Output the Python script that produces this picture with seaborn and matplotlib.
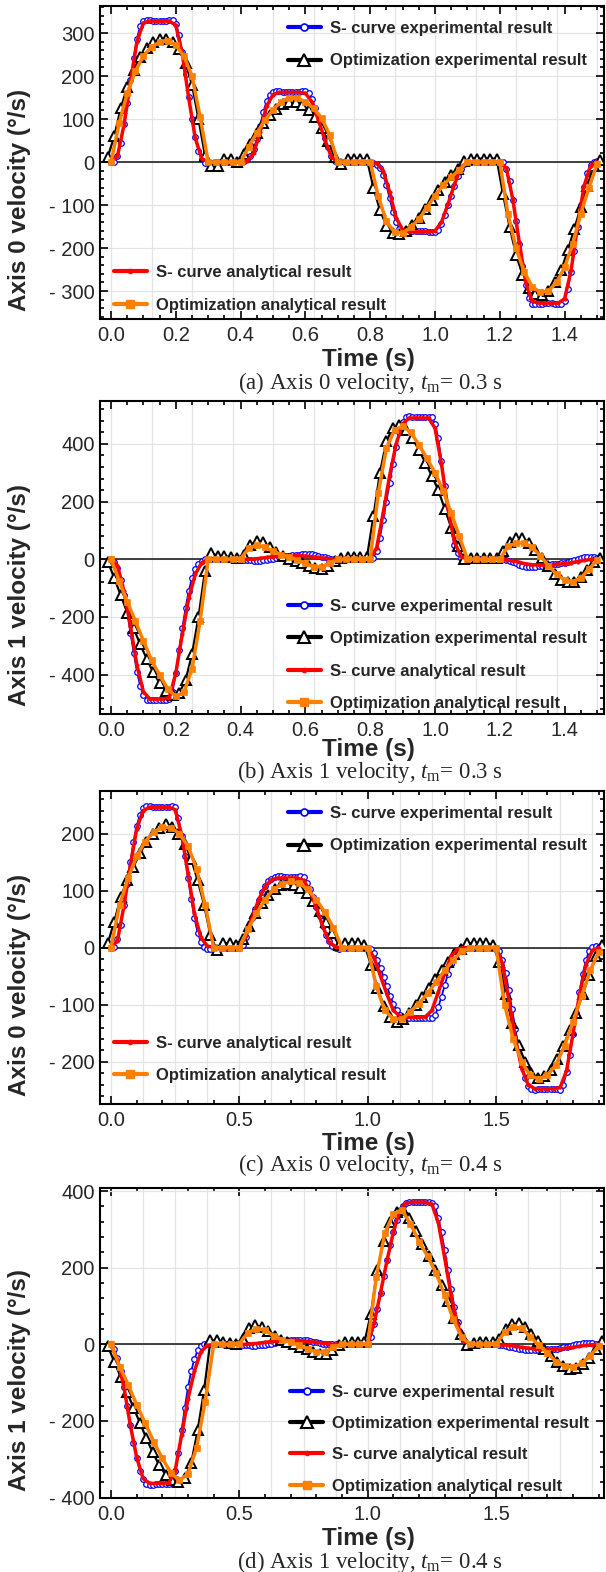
import numpy as np
import matplotlib
matplotlib.use("Agg")
import matplotlib.pyplot as plt
import seaborn as sns
from matplotlib.lines import Line2D
from matplotlib.ticker import MultipleLocator, FuncFormatter

sns.set_style("ticks")
plt.rcParams['font.family'] = ['Liberation Sans', 'DejaVu Sans']
plt.rcParams['axes.unicode_minus'] = False
plt.rcParams['mathtext.fontset'] = 'custom'
plt.rcParams['mathtext.rm'] = 'Liberation Serif'
plt.rcParams['mathtext.it'] = 'Liberation Serif:italic'

# ---------------- time grids (sampling instants) ----------------
t_ab_scurve_exp = np.arange(151) * 0.01
t_ab_scurve_ana = np.arange(76) * 0.02
t_ab_opt_ana = np.arange(61) * 0.025
t_ab_opt_exp = -0.01 + np.arange(77) * 0.02

t_cd_scurve_exp = np.arange(153) * 0.0125
t_cd_scurve_ana = np.arange(77) * 0.025
t_cd_opt_ana = np.arange(58) / 30.0
t_cd_opt_exp = -0.0125 + np.arange(78) * 0.025

# ---------------- panel (a): axis 0, tm = 0.3 s ----------------
a_scurve_exp = [
    0, 1, 15, 45, 88, 138, 190, 242, 287, 316, 329, 331, 330, 329, 328, 328, 328, 329, 330, 331,
    322, 296, 255, 206, 152, 101, 58, 26, 7, -2, -3,
    -2, -1, 0, 0, 0, 0, 0, 0, 0,
    0, 2, 6, 14, 30, 54, 84, 116, 141, 157, 164, 166, 165, 164, 163, 163, 163, 163, 164, 165,
    166, 160, 146, 126, 104, 81, 57, 34, 15, 3, -2,
    -2, -1, 0, 0, 0, 0, 0, 0, 0,
    0, -2, -6, -14, -30, -54, -84, -115, -140, -155, -161, -163, -162, -161, -161, -161, -161, -161, -162, -163,
    -163, -157, -143, -123, -101, -78, -55, -33, -15, -4, 1,
    1, 0, 0, 0, 0, 0, 0, 0, 0,
    0, -1, -15, -45, -88, -138, -190, -242, -287, -316, -329, -331, -330, -329, -328, -328, -328, -329, -330, -331,
    -322, -296, -255, -206, -152, -101, -58, -26, -7, 0, 2]
a_scurve_ana = [
    0, 14, 86, 186, 280, 324, 328, 328, 328, 328, 318, 252, 148, 56, 8, 0,
    0, 0, 0, 0,
    0, 3, 20, 70, 130, 157, 162, 162, 162, 162, 160, 140, 98, 52, 12, 0,
    0, 0, 0, 0,
    0, -3, -20, -70, -130, -157, -162, -162, -162, -162, -160, -140, -98, -52, -12, 0,
    0, 0, 0, 0,
    0, -14, -86, -186, -280, -324, -328, -328, -328, -328, -318, -252, -148, -56, -8, 0]
a_opt_ana = [
    0, 90, 160, 211, 247, 268, 279, 282, 272, 247, 200, 105, 0,
    0, 0, 0,
    0, 35, 68, 97, 122, 140, 150, 149, 140, 125, 103, 62, 0,
    0, 0, 0,
    0, -80, -138, -163, -165, -152, -133, -106, -78, -54, -35, -18, 0,
    0, 0, 0,
    0, -120, -200, -255, -290, -303, -300, -280, -245, -190, -120, -60, -5]
a_opt_exp = [
    12, 60, 125, 175, 215, 245, 266, 279, 286, 287, 280, 262, 230, 180, 100, 15,
    -8, -8, 8, 8, 0,
    18, 42, 67, 91, 110, 124, 134, 139, 139, 132, 122, 104, 80, 48, 12,
    -5, 8, 8, 8, 6,
    -60, -112, -148, -165, -168, -160, -146, -130, -110, -88, -66, -46, -30, -15, 2,
    8, 8, 8, 8, 8,
    -75, -150, -215, -262, -292, -306, -310, -300, -280, -250, -205, -155, -105, -55, -10, 5]

# ---------------- panel (b): axis 1, tm = 0.3 s ----------------
b_scurve_exp = [
    0, -8, -30, -72, -125, -185, -255, -325, -390, -440, -472, -487, -490, -488, -487, -487, -487, -487, -486, -460,
    -395, -315, -240, -170, -110, -65, -35, -15, -5, 0, 2,
    2, 1, 0, 0, 0, 0, 0, 0, 0,
    0, -1, -2, -3, -5, -6, -5, -4, -2, 0, 2, 4, 6, 8, 10, 12, 13, 15, 16, 17,
    18, 18, 17, 15, 12, 9, 6, 3, 1, 0, 0,
    0, 0, 0, 0, 0, 0, 0, 0, 0,
    0, 5, 30, 75, 135, 200, 265, 330, 390, 440, 475, 492, 497, 495, 494, 494, 494, 494, 494, 493,
    470, 420, 340, 255, 170, 100, 50, 20, 5, 0, -2,
    -1, 0, 0, 0, 0, 0, 0, 0, 0,
    0, 0, -2, -5, -9, -14, -19, -23, -26, -28, -28, -27, -25, -23, -21, -19, -18, -17, -16, -14,
    -12, -9, -6, -3, 0, 3, 6, 8, 9, 8, 5]
b_scurve_ana = [
    0, -22, -110, -232, -368, -460, -485, -485, -485, -480, -395, -260, -135, -52, -12, 0,
    0, 0, 0, 0,
    0, 0, 1, 3, 6, 9, 11, 12, 12, 12, 11, 9, 6, 3, 1, 0,
    0, 0, 0, 0,
    0, 40, 160, 290, 400, 470, 490, 490, 490, 490, 455, 330, 175, 60, 10, 0,
    0, 0, 0, 0,
    0, -2, -6, -11, -16, -19, -20, -20, -19, -17, -15, -12, -8, -4, -1, 0]
b_opt_ana = [
    0, -75, -147, -214, -283, -350, -402, -450, -475, -462, -380, -215, 0,
    0, 0, 0,
    2, 38, 50, 42, 28, 16, 8, -2, -14, -26, -27, -12, 0,
    0, 0, 0,
    0, 230, 385, 448, 462, 440, 398, 350, 300, 238, 160, 80, 0,
    0, 0, 0,
    0, 45, 56, 56, 42, 12, -22, -52, -72, -78, -65, -35, -3]
b_opt_exp = [
    -8, -65, -125, -185, -240, -295, -345, -392, -430, -458, -470, -465, -420, -330, -200, -40,
    20, 12, 10, 8, 5,
    15, 50, 62, 60, 42, 25, 12, 2, -5, -12, -22, -30, -33, -22, -5,
    5, 8, 8, 8, 8,
    150, 300, 410, 455, 465, 450, 420, 380, 335, 290, 240, 175, 110, 45, 0,
    5, 5, 5, 5, 5,
    30, 60, 72, 72, 58, 32, 5, -25, -52, -72, -80, -78, -62, -38, -10, 5]

# ---------------- panel (c): axis 0, tm = 0.4 s ----------------
c_scurve_exp = [
    0, 2, 15, 40, 75, 112, 150, 185, 213, 233, 244, 248, 248, 247, 246, 246, 246, 246, 247, 248,
    246, 228, 195, 160, 122, 85, 52, 26, 10, 2, -2, -3, -2,
    -2, -1, 0, 0, 0, 0, 0,
    0, 5, 18, 34, 52, 68, 84, 97, 108, 116, 121, 124, 125, 125, 124, 124, 124, 124, 124, 125,
    124, 114, 102, 88, 72, 55, 38, 23, 11, 3, -1, -2, -1,
    -1, 0, 0, 0, 0, 0, 0,
    0, -3, -10, -22, -36, -52, -68, -84, -98, -110, -118, -123, -124, -124, -123, -123, -123, -123, -123, -124,
    -124, -118, -104, -86, -66, -46, -28, -14, -5, 0, 1, 0, 0,
    0, 0, 0, 0, 0, 0, 0,
    0, -6, -22, -45, -75, -108, -142, -175, -205, -228, -242, -248, -249, -248, -247, -247, -247, -247, -247, -248,
    -249, -240, -218, -188, -152, -115, -78, -46, -22, -6, 2, 3, 1]
c_scurve_ana = [
    0, 12, 72, 143, 208, 240, 246, 246, 246, 246, 242, 198, 130, 60, 18, 3, 0,
    0, 0, 0,
    0, 20, 52, 84, 107, 119, 122, 122, 122, 122, 118, 100, 70, 37, 10, 1, 0,
    0, 0, 0,
    0, -18, -50, -82, -110, -120, -122, -122, -122, -121, -110, -78, -45, -15, -3, 0, 0,
    0, 0, 0,
    0, -28, -92, -158, -212, -240, -247, -247, -247, -247, -245, -215, -150, -82, -30, -5, 0]
c_opt_ana = [
    0, 75, 122, 160, 186, 203, 211, 210, 200, 178, 138, 75, 0,
    0, 0,
    0, 32, 60, 84, 102, 112, 116, 113, 102, 84, 62, 35, 0,
    0, 0,
    0, -68, -110, -125, -125, -112, -98, -80, -60, -40, -22, -6, 0,
    0, 0,
    0, -100, -160, -200, -224, -230, -224, -205, -172, -130, -85, -40, -8]
c_opt_exp = [
    8, 45, 88, 118, 142, 165, 185, 200, 210, 217, 212, 200, 182, 155, 118, 75, 22,
    -5, 8, 8, 5,
    15, 38, 60, 78, 92, 103, 109, 111, 110, 104, 95, 82, 65, 45, 25, 5,
    8, 8, 8, 5,
    -30, -70, -102, -122, -130, -125, -114, -100, -86, -70, -55, -40, -25, -12, -2, 8,
    8, 8, 8, 5,
    -25, -82, -132, -170, -200, -220, -228, -225, -214, -196, -172, -144, -114, -82, -48, -14, 5]

# ---------------- panel (d): axis 1, tm = 0.4 s ----------------
d_scurve_exp = [
    0, -12, -36, -70, -112, -160, -210, -258, -298, -330, -352, -364, -368, -366, -365, -365, -365, -365, -364, -358,
    -330, -285, -225, -165, -112, -70, -38, -16, -4, 0, 2, 1, 0,
    0, 0, 0, 0, 0, 0, 0,
    0, -1, -2, -3, -4, -4, -3, -2, -1, 0, 2, 4, 6, 8, 9, 10, 11, 12, 12, 12,
    11, 10, 9, 7, 5, 4, 2, 1, 0, 0, 0, 0, 0,
    0, 0, 0, 0, 0, 0, 0,
    0, 20, 52, 92, 135, 178, 220, 258, 293, 325, 350, 362, 369, 372, 372, 371, 371, 371, 371, 371,
    368, 360, 330, 292, 245, 195, 145, 98, 58, 26, 8, 0, -2,
    -1, 0, 0, 0, 0, 0, 0,
    0, -1, -2, -4, -6, -8, -10, -12, -13, -14, -15, -15, -15, -15, -14, -14, -13, -13, -12, -11,
    -10, -8, -6, -4, -2, 0, 2, 3, 4, 4, 3, 2, 1]
d_scurve_ana = [
    0, -40, -110, -210, -295, -350, -363, -363, -363, -362, -330, -237, -142, -70, -20, -3, 0,
    0, 0, 0,
    0, 0, 1, 3, 5, 7, 9, 10, 10, 10, 9, 7, 5, 3, 1, 0, 0,
    0, 0, 0,
    0, 55, 135, 218, 293, 350, 369, 371, 371, 371, 366, 318, 225, 128, 50, 8, 0,
    0, 0, 0,
    0, -1, -3, -5, -8, -10, -12, -13, -13, -13, -12, -10, -8, -5, -3, -1, 0]
d_opt_ana = [
    0, -58, -105, -158, -206, -255, -298, -335, -355, -338, -270, -150, 0,
    0, 0,
    2, 30, 41, 37, 22, 12, 6, -3, -12, -20, -20, -8, 0,
    0, 0,
    0, 175, 290, 340, 350, 315, 268, 230, 185, 128, 65, 18, 0,
    0, 0,
    0, 32, 45, 42, 20, -3, -22, -45, -57, -59, -50, -30, -5]
d_opt_exp = [
    -5, -45, -85, -125, -165, -205, -245, -282, -315, -340, -355, -360, -350, -310, -225, -120, 10,
    10, 5, 3, 0,
    15, 42, 50, 45, 35, 22, 12, 5, 0, -6, -12, -20, -25, -25, -15, -3,
    5, 6, 6, 6,
    80, 195, 270, 320, 345, 350, 330, 295, 262, 230, 195, 155, 112, 68, 28, -2,
    3, 5, 5, 5,
    15, 40, 52, 55, 45, 28, 8, -12, -30, -45, -57, -64, -62, -52, -35, -12, 8]

series_labels = ["S- curve experimental result", "Optimization experimental result",
                 "S- curve analytical result", "Optimization analytical result"]
captions = [r"(a) Axis 0 velocity, $t_{\mathrm{m}}$= 0.3 s",
            r"(b) Axis 1 velocity, $t_{\mathrm{m}}$= 0.3 s",
            r"(c) Axis 0 velocity, $t_{\mathrm{m}}$= 0.4 s",
            r"(d) Axis 1 velocity, $t_{\mathrm{m}}$= 0.4 s"]
ylabels = ["Axis 0 velocity (°/s)", "Axis 1 velocity (°/s)",
           "Axis 0 velocity (°/s)", "Axis 1 velocity (°/s)"]

BLUE, BLACK, RED, ORANGE = "#0000ff", "#000000", "#ff0000", "#ff8000"

W, H = 606, 1572
fig = plt.figure(figsize=(W / 100, H / 100), dpi=100)

# pixel geometry of each panel: (top, bottom)
panel_px = [(6, 319), (401, 714), (791, 1104), (1188, 1498.3)]
left_px, right_px = 99.7, 604

panels = [
    dict(t=(t_ab_scurve_exp, t_ab_opt_exp, t_ab_scurve_ana, t_ab_opt_ana),
         v=(a_scurve_exp, a_opt_exp, a_scurve_ana, a_opt_ana),
         xlim=(-0.0349, 1.5216), ylim=(-365, 363), xmaj=0.2, xmin=0.05, ymaj=100, ymin=20,
         xlab_gap=29, cap_y=383,
         legends=[((0, 2), 0.3727, 16 - 6 + 5, 1.05), ((2, 4), 0.0283, 260.3 - 6 + 5, 1.05)]),
    dict(t=(t_ab_scurve_exp, t_ab_opt_exp, t_ab_scurve_ana, t_ab_opt_ana),
         v=(b_scurve_exp, b_opt_exp, b_scurve_ana, b_opt_ana),
         xlim=(-0.0349, 1.5216), ylim=(-537, 549), xmaj=0.2, xmin=0.05, ymaj=200, ymin=40,
         xlab_gap=24, cap_y=771.7,
         legends=[((0, 4), 0.3727, 593.6 - 401 + 5, 1.05)]),
    dict(t=(t_cd_scurve_exp, t_cd_opt_exp, t_cd_scurve_ana, t_cd_opt_ana),
         v=(c_scurve_exp, c_opt_exp, c_scurve_ana, c_opt_ana),
         xlim=(-0.044, 1.9205), ylim=(-274, 274.5), xmaj=0.5, xmin=0.1, ymaj=100, ymin=20,
         xlab_gap=27.7, cap_y=1165,
         legends=[((0, 2), 0.3727, 10 + 5, 1.05), ((2, 4), 0.0283, 1030.3 - 791 + 6, 1.0)]),
    dict(t=(t_cd_scurve_exp, t_cd_opt_exp, t_cd_scurve_ana, t_cd_opt_ana),
         v=(d_scurve_exp, d_opt_exp, d_scurve_ana, d_opt_ana),
         xlim=(-0.044, 1.9205), ylim=(-402, 408), xmaj=0.5, xmin=0.1, ymaj=200, ymin=40,
         xlab_gap=28.4, cap_y=1561.7,
         legends=[((0, 4), 0.378, 1378 - 1188 + 6.5, 0.98)]),
]

styles = [
    dict(color=BLUE, lw=1.3, marker='o', markersize=4.0, markerfacecolor='white',
         markeredgecolor=BLUE, markeredgewidth=0.9, zorder=3),
    dict(color=BLACK, lw=1.6, marker='^', markersize=6.8, markerfacecolor='white',
         markeredgecolor=BLACK, markeredgewidth=1.4, zorder=4),
    dict(color=RED, lw=2.5, marker='o', markersize=2.4, markerfacecolor=RED,
         markeredgecolor=RED, markeredgewidth=0.5, zorder=5),
    dict(color=ORANGE, lw=2.5, marker='s', markersize=5.0, markerfacecolor=ORANGE,
         markeredgecolor=ORANGE, markeredgewidth=0.5, zorder=6),
]

handles = [
    Line2D([], [], color=BLUE, lw=3, marker='o', ms=5, mfc='white', mec=BLUE, mew=1.2),
    Line2D([], [], color=BLACK, lw=3, marker='^', ms=8, mfc='white', mec=BLACK, mew=1.5),
    Line2D([], [], color=RED, lw=3, marker='o', ms=3, mfc=RED, mec=RED),
    Line2D([], [], color=ORANGE, lw=3, marker='s', ms=6, mfc=ORANGE, mec=ORANGE),
]
leg_font = dict(family='Liberation Sans', weight='bold', size=12)


def fmt_y(v, pos):
    iv = int(round(v))
    if iv < 0:
        return f"- {abs(iv)}"
    return f"{iv}"


for i, p in enumerate(panels):
    top, bot = panel_px[i]
    ax = fig.add_axes([left_px / W, 1 - bot / H, (right_px - left_px) / W, (bot - top) / H])
    hpx = bot - top

    for (tt, vv, st) in zip(p["t"], p["v"], styles):
        sns.lineplot(x=np.asarray(tt), y=np.asarray(vv, dtype=float), ax=ax, estimator=None,
                     sort=False, legend=False, errorbar=None, **st)

    ax.set_xlim(*p["xlim"])
    ax.set_ylim(*p["ylim"])
    ax.xaxis.set_major_locator(MultipleLocator(p["xmaj"]))
    ax.xaxis.set_minor_locator(MultipleLocator(p["xmin"]))
    ax.yaxis.set_major_locator(MultipleLocator(p["ymaj"]))
    ax.yaxis.set_minor_locator(MultipleLocator(p["ymin"]))
    ax.xaxis.set_major_formatter(FuncFormatter(lambda v, pos: f"{v:.1f}"))
    ax.yaxis.set_major_formatter(FuncFormatter(fmt_y))
    ax.tick_params(which='both', direction='in', top=True, right=True, width=1.2,
                   labelsize=14.5, color='black')
    ax.tick_params(which='major', length=5.5)
    ax.tick_params(which='minor', length=3)
    ax.tick_params(axis='x', which='major', pad=5)
    for s in ax.spines.values():
        s.set_linewidth(1.5)
        s.set_color('black')

    # grid
    for gx in np.arange(0, p["xlim"][1], 0.125):
        ax.axvline(gx, color='#e4e4e4', lw=0.9, zorder=0)
    ax.grid(axis='y', which='major', color='#e4e4e4', lw=0.9)
    ax.grid(axis='x', which='both', visible=False)
    ax.set_axisbelow(True)
    ax.axhline(0, color='#111111', lw=1.1, zorder=2)

    ax.set_ylabel(ylabels[i], fontsize=17.5, fontweight='bold')
    ax.yaxis.set_label_coords(-0.136, 0.38)
    ax.set_xlabel("Time (s)", fontsize=17.5, fontweight='bold')
    ax.xaxis.set_label_coords(0.533, -p["xlab_gap"] / hpx)

    common = dict(prop=leg_font, frameon=False, handlelength=1.98, handletextpad=0.55,
                  borderpad=0, borderaxespad=0, numpoints=1, loc='upper left')
    for j, (rng, lx, ltop, lsp) in enumerate(p["legends"]):
        leg = ax.legend(handles=handles[rng[0]:rng[1]], labels=series_labels[rng[0]:rng[1]],
                        bbox_to_anchor=(lx, 1 - ltop / hpx), labelspacing=lsp, **common)
        if j < len(p["legends"]) - 1:
            ax.add_artist(leg)

    fig.text(370 / W, 1 - p["cap_y"] / H, captions[i], ha='center', va='center',
             fontsize=16.5, family='Liberation Serif')

fig.savefig("out.png", dpi=100)
